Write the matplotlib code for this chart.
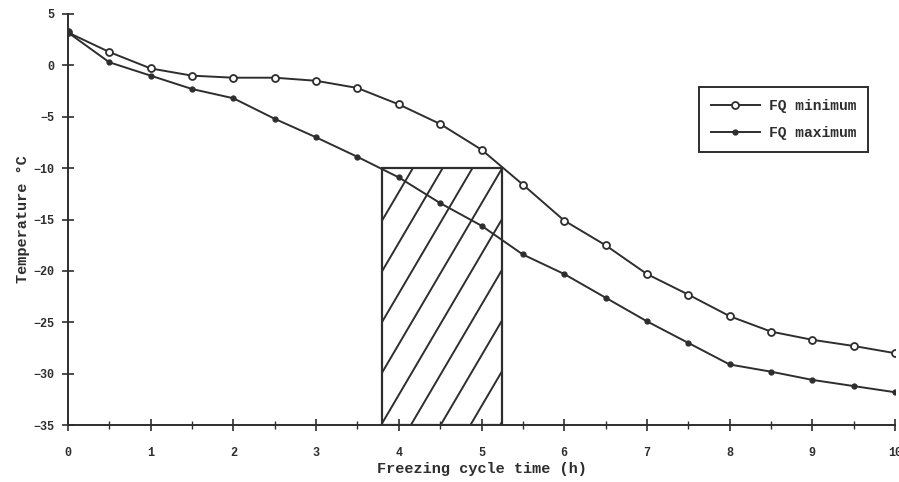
import numpy as np
import matplotlib
matplotlib.use('Agg')
from matplotlib import pyplot as plt
from matplotlib.patches import Rectangle

# Freezing cycle time (h)
tempo = [0, 0.5, 1.0, 1.5, 2.0, 2.5, 3.0, 3.5, 4.0, 4.5, 5.0,
         5.5, 6.0, 6.5, 7.0, 7.5, 8.0, 8.5, 9.0, 9.5, 10.0]

# FQ minimum (open circles)
fq_minimo = [3.2, 1.3, -0.3, -1.0, -1.2, -1.2, -1.5, -2.2, -3.8, -5.7, -8.2,
             -11.6, -15.1, -17.5, -20.3, -22.3, -24.4, -25.9, -26.7, -27.3, -28.0]

# FQ maximum (filled dots)
fq_maximo = [3.2, 0.3, -1.0, -2.3, -3.2, -5.2, -7.0, -8.9, -10.9, -13.4, -15.6,
             -18.4, -20.3, -22.6, -24.9, -27.0, -29.1, -29.8, -30.6, -31.2, -31.8]

# hatched zone
zona_inicio, zona_fim = 3.8, 5.25
zona_topo = -10

cor = '#2e2e2e'
fonte = 'Liberation Mono'

fig = plt.figure(figsize=(8.99, 4.82), dpi=100)
ax = fig.add_axes([0.0756, 0.118, 0.92, 0.853])

ax.plot(tempo, fq_minimo, '-o', color=cor, linewidth=1.4, markersize=5,
        markerfacecolor='white', markeredgewidth=1.3, label='FQ minimum', zorder=4)
ax.plot(tempo, fq_maximo, '-o', color=cor, linewidth=1.4, markersize=3.5,
        label='FQ maximum', zorder=4)

# rectangle with wide diagonal hatching
ret = Rectangle((zona_inicio, -35), zona_fim - zona_inicio, zona_topo + 35,
                fill=False, edgecolor=cor, linewidth=1.6, zorder=3)
ax.add_patch(ret)
inclinacao = 13.7
passo = 0.36
for k in range(-8, 8):
    xk = zona_fim - passo * k
    xs = np.array([xk - 3, xk])
    ys = zona_topo + inclinacao * (xs - xk)
    linha, = ax.plot(xs, ys, color=cor, linewidth=1.4, zorder=2)
    linha.set_clip_path(ret)

ax.set_xlim(0, 10)
ax.set_ylim(-35, 5)
ax.set_xticks(range(0, 11))
ax.set_xticks(np.arange(0.5, 10, 1.0), minor=True)
ax.set_yticks(range(-35, 6, 5))

for lado in ['top', 'right']:
    ax.spines[lado].set_visible(False)
for lado in ['left', 'bottom']:
    ax.spines[lado].set_color(cor)
    ax.spines[lado].set_linewidth(1.4)

ax.tick_params(axis='both', which='major', direction='inout', length=8,
               width=1.2, color=cor, labelsize=8.5, labelcolor=cor)
ax.tick_params(axis='x', which='minor', direction='inout', length=6,
               width=1.0, color=cor)
ax.tick_params(axis='x', which='major', pad=12)
ax.tick_params(axis='y', which='major', pad=6)
for rotulo in ax.get_xticklabels() + ax.get_yticklabels():
    rotulo.set_fontfamily(fonte)
    rotulo.set_fontweight('bold')

ax.set_xlabel('Freezing cycle time (h)', fontfamily=fonte, fontweight='bold',
              fontsize=11, color=cor, labelpad=2)
ax.set_ylabel('Temperature °C', fontfamily=fonte, fontweight='bold',
              fontsize=11, color=cor, labelpad=2)

leg = ax.legend(loc='upper left', bbox_to_anchor=(0.754, 0.84), fancybox=False,
                framealpha=1, edgecolor=cor, borderpad=0.8, labelspacing=0.9,
                handlelength=3.4, handletextpad=0.6,
                prop={'family': fonte, 'weight': 'bold', 'size': 10.5})
leg.get_frame().set_linewidth(1.4)
for t in leg.get_texts():
    t.set_color(cor)

plt.savefig('out.png', dpi=100)
